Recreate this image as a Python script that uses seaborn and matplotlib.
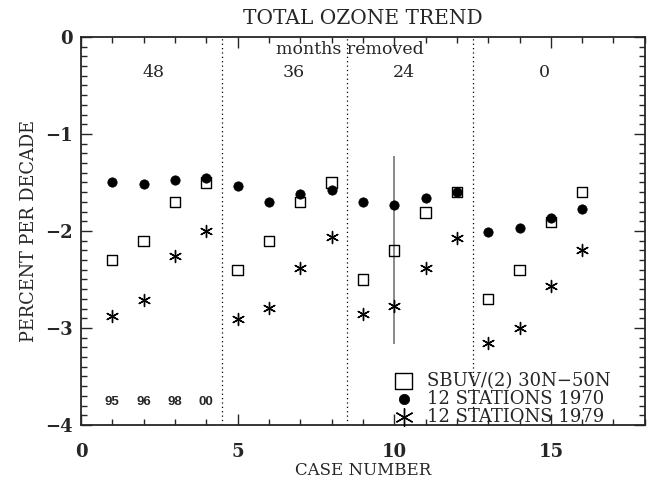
import pandas as pd
import seaborn as sns
import matplotlib.pyplot as plt
from matplotlib.ticker import MultipleLocator

# valores
case = list(range(1, 17))
sbuv = [-2.30, -2.10, -1.70, -1.50, -2.40, -2.10, -1.70, -1.50,
        -2.50, -2.20, -1.81, -1.60, -2.70, -2.40, -1.91, -1.60]
st1970 = [-1.50, -1.515, -1.47, -1.45, -1.54, -1.70, -1.62, -1.58,
          -1.70, -1.73, -1.66, -1.60, -2.01, -1.97, -1.87, -1.77]
st1979 = [-2.88, -2.71, -2.26, -2.00, -2.91, -2.79, -2.38, -2.06,
          -2.86, -2.77, -2.38, -2.07, -3.15, -3.00, -2.57, -2.20]
err_case = 10
err_center = -2.20
err_half = 0.97
group_edges = [4.5, 8.5, 12.5]
group_labels = ["48", "36", "24", "0"]
group_pos = [2.3, 6.8, 10.3, 14.8]
year_labels = ["95", "96", "98", "00"]
year_pos = [1, 2, 3, 4]

data = pd.DataFrame({"case": case, "sbuv": sbuv, "s1970": st1970, "s1979": st1979})

sns.set_style("ticks")
plt.rcParams['font.family'] = ['DejaVu Serif']

fig = plt.figure(figsize=(6.5, 4.84), dpi=100)
ax = fig.add_axes([0.1246, 0.1219, 0.8674, 0.8017])

# barra de erro
ax.vlines(err_case, err_center - err_half, err_center + err_half, color="gray", lw=1.3, zorder=1)

sns.scatterplot(data=data, x="case", y="sbuv", marker="s", s=55, facecolor="none",
                edgecolor="black", linewidth=1.0, label="SBUV/(2) 30N\u221250N", ax=ax, zorder=3)
sns.scatterplot(data=data, x="case", y="s1970", marker="o", s=45, color="black",
                edgecolor="black", label="12 STATIONS 1970", ax=ax, zorder=3)
sns.scatterplot(data=data, x="case", y="s1979", marker=(6, 2, 0), s=75, color="black",
                linewidth=1.0, label="12 STATIONS 1979", ax=ax, zorder=3)

for xe in group_edges:
    ax.axvline(xe, color="black", ls=(0, (1, 2.5)), lw=0.9)

ax.text(8.6, -0.13, "months removed", ha="center", va="center", fontsize=12.5)
for p, t in zip(group_pos, group_labels):
    ax.text(p, -0.37, t, ha="center", va="center", fontsize=12.5)
for p, t in zip(year_pos, year_labels):
    ax.text(p, -3.76, t, ha="center", va="center", fontsize=9.5,
            family=["Liberation Sans", "DejaVu Sans"], fontweight="bold")

ax.set_xlim(0, 18)
ax.set_ylim(-4, 0)
ax.xaxis.set_major_locator(MultipleLocator(5))
ax.xaxis.set_minor_locator(MultipleLocator(1))
ax.yaxis.set_major_locator(MultipleLocator(1))
ax.yaxis.set_minor_locator(MultipleLocator(0.1))
ax.tick_params(which="both", direction="in", top=True, right=True, labelsize=13)
ax.tick_params(which="major", length=8, width=1)
ax.tick_params(which="minor", length=4, width=1)
ax.tick_params(axis="x", pad=13)
ax.tick_params(axis="y", pad=6)
for lab in ax.get_xticklabels() + ax.get_yticklabels():
    lab.set_fontweight("bold")
for sp in ax.spines.values():
    sp.set_linewidth(1.3)

ax.set_xlabel("CASE NUMBER", fontsize=12, labelpad=1)
ax.set_ylabel("PERCENT PER DECADE", fontsize=12.8, labelpad=5)
ax.set_title("TOTAL OZONE TREND", fontsize=14.5, pad=9)

leg = ax.legend(loc="lower left", bbox_to_anchor=(0.54, -0.025), frameon=False, fontsize=13,
                handletextpad=0.8, labelspacing=0.0, borderpad=0, handlelength=1.0)
for h, sz in zip(leg.legend_handles, [140, 55, 160]):
    h.set_sizes([sz])

plt.savefig("out.png", dpi=100)
